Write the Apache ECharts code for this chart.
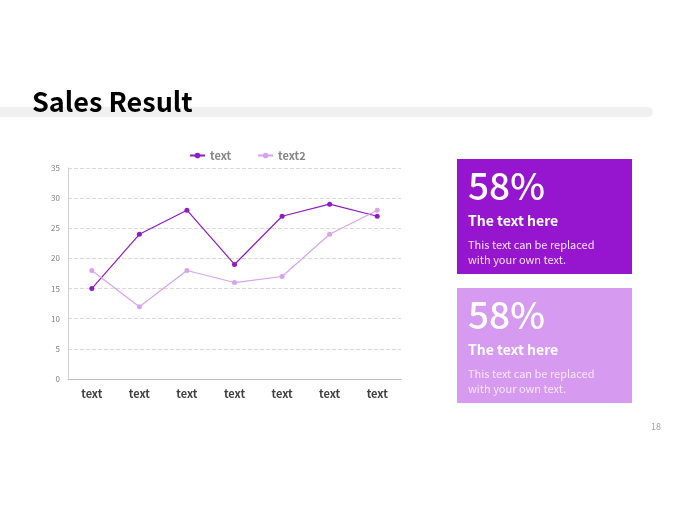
<!DOCTYPE html>
<html lang="en">
<head>
    <meta charset="UTF-8">
    <title>Sales Result</title>
    <script src="https://cdn.jsdelivr.net/npm/echarts@6/dist/echarts.min.js"></script>
    <style>
        html, body { margin: 0; padding: 0; background: #fff; }
        #main { width: 680px; height: 510px; }
    </style>
</head>
<body>
<div id="main"></div>
<script type="text/javascript">
    // data
    var categories = ['text', 'text', 'text', 'text', 'text', 'text', 'text'];
    var seriesNames = ['text', 'text2'];
    var values1 = [15, 24, 28, 19, 27, 29, 27];
    var values2 = [18, 12, 18, 16, 17, 24, 28];
    var yTicks = { min: 0, max: 35, interval: 5 };

    var font = '"Noto Sans CJK KR", "Noto Sans", sans-serif';
    var dark = '#8f1bc2';
    var light = '#d9a2ee';

    var chartDom = document.getElementById('main');
    var myChart = echarts.init(chartDom);

    // right-hand text boxes
    function card(top, bg, bodyColor) {
        return [
            { type: 'rect', shape: { x: 457, y: top, width: 175, height: 115 }, style: { fill: bg } },
            { type: 'text', x: 468, y: top + 8, style: { text: '58%', fill: '#fff', font: '500 37px ' + font } },
            { type: 'text', x: 468, y: top + 55, style: { text: 'The text here', fill: '#fff', font: 'bold 14px ' + font } },
            { type: 'text', x: 468, y: top + 78, style: { text: 'This text can be replaced\nwith your own text.', fill: bodyColor, font: '11px ' + font, lineHeight: 15 } }
        ];
    }

    var option = {
        animation: false,
        textStyle: { fontFamily: font },
        graphic: [
            { type: 'rect', shape: { x: -10, y: 107, width: 663, height: 10, r: 5 }, style: { fill: '#f0f0f0' } },
            { type: 'text', x: 32, y: 88, style: { text: 'Sales Result', fill: '#000', font: 'bold 27px ' + font } },
            { type: 'text', x: 651, y: 422, style: { text: '18', fill: '#a0a0a0', font: '9px ' + font } }
        ].concat(card(159, '#9615cf', '#f3e3fb')).concat(card(288, '#d79af1', '#f6e6fc')),
        legend: {
            top: 145,
            left: 184,
            itemWidth: 15,
            itemHeight: 7,
            itemGap: 26,
            textStyle: { color: '#858585', fontSize: 11, fontWeight: 'bold' },
            data: seriesNames
        },
        grid: { left: 68, right: 279, top: 168, bottom: 131 },
        xAxis: {
            type: 'category',
            data: categories,
            boundaryGap: true,
            axisLine: { lineStyle: { color: '#bfbfbf' } },
            axisTick: { length: 4, lineStyle: { color: '#bfbfbf' } },
            axisLabel: { color: '#404040', fontSize: 11, fontWeight: 'bold', margin: 9 }
        },
        yAxis: {
            type: 'value',
            min: yTicks.min,
            max: yTicks.max,
            interval: yTicks.interval,
            axisLine: { show: true, lineStyle: { color: '#d0d0d0' } },
            axisTick: { show: false },
            axisLabel: { color: '#808080', fontSize: 8, margin: 8 },
            splitLine: { lineStyle: { color: '#d9d9d9', type: 'dashed' } }
        },
        series: [
            {
                name: seriesNames[0],
                type: 'line',
                data: values1,
                symbol: 'circle',
                symbolSize: 5,
                itemStyle: { color: dark },
                lineStyle: { color: dark, width: 1.2 }
            },
            {
                name: seriesNames[1],
                type: 'line',
                data: values2,
                symbol: 'circle',
                symbolSize: 5,
                itemStyle: { color: light },
                lineStyle: { color: light, width: 1.2 }
            }
        ]
    };

    option && myChart.setOption(option);
</script>
</body>
</html>
